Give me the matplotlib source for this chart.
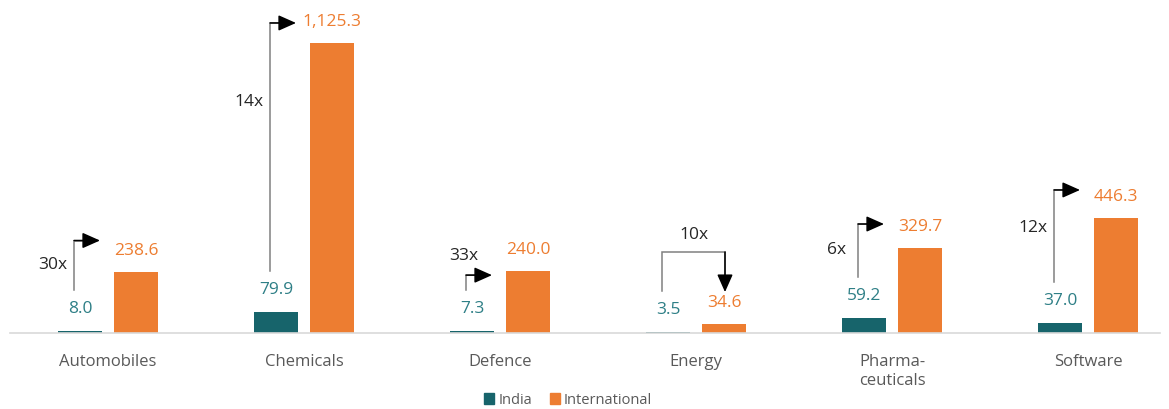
import matplotlib
matplotlib.use("Agg")
import matplotlib.pyplot as plt
from matplotlib.patches import Patch

categories = ["Automobiles", "Chemicals", "Defence", "Energy", "Pharma-\nceuticals", "Software"]
india = [8.0, 79.9, 7.3, 3.5, 59.2, 37.0]
international = [238.6, 1125.3, 240.0, 34.6, 329.7, 446.3]

# annotation layout (pixel offsets, not data)
bracket_style = ["side", "side", "top", "down", "side", "side"]
rise_px = [31, 20, -4, 72, 24, 28]      # horizontal level above international bar top
label_frac = [0.5, 0.32, 0, 0, 0.5, 0.41]

TEAL = "#17646B"
TEAL_TXT = "#2E7F86"
ORANGE = "#ED7D31"
GRAY_TXT = "#595959"
FONT = ["Open Sans", "DejaVu Sans"]
plt.rcParams["font.family"] = FONT

W, H = 1169, 409
fig = plt.figure(figsize=(W / 100, H / 100), dpi=100)
base_px = 333
ax_left, ax_right = 10, 1160
ax = fig.add_axes([ax_left / W, (H - base_px) / H, (ax_right - ax_left) / W, base_px / H])

slot = 196.0
x0 = -(108 - ax_left) / slot
x1 = (ax_right - 108) / slot
ymax = 1292.0
ax.set_xlim(x0, x1)
ax.set_ylim(0, ymax)
xs = (x1 - x0) / (ax_right - ax_left)
ys = ymax / base_px

off = 28 * xs
bw = 44 * xs
idx = list(range(len(categories)))
ax.bar([i - off for i in idx], india, width=bw, color=TEAL, zorder=2)
ax.bar([i + off for i in idx], international, width=bw, color=ORANGE, zorder=2)

for i in idx:
    ax.text(i - off, india[i] + 22 * ys, f"{india[i]:,.1f}", ha="center", va="center",
            color=TEAL_TXT, fontsize=12.5)
    ax.text(i + off, international[i] + 21 * ys, f"{international[i]:,.1f}", ha="center", va="center",
            color=ORANGE, fontsize=12.5)

LINE = "#808080"
AS = "-|>,head_length=0.9,head_width=0.4"
MS = 12
for i in idx:
    mult = f"{round(international[i] / india[i])}x"
    xv = i - off - 6 * xs
    ybot = india[i] + 41 * ys
    ytop = international[i] + rise_px[i] * ys
    st = bracket_style[i]
    if st == "down":
        xr = i + off + 1 * xs
        ytip = international[i] + 32 * ys
        ax.plot([xv, xv, xr], [ybot, ytop, ytop], color=LINE, lw=1.1, solid_joinstyle="miter", zorder=3)
        ax.plot([xr, xr], [ytop, ytip + 6 * ys], color=LINE, lw=1.1, zorder=3)
        ax.annotate("", xy=(xr, ytip), xytext=(xr, ytop),
                    arrowprops=dict(arrowstyle=AS, color="black",
                                    lw=1.1, shrinkA=0, shrinkB=0, mutation_scale=MS), zorder=4)
        ax.text((xv + xr) / 2, ytop + 17 * ys, mult, ha="center", va="center", fontsize=12.5, color="#262626")
    else:
        xtip = i + off - 36 * xs
        ax.plot([xv, xv, xtip - 6 * xs], [ybot, ytop, ytop], color=LINE, lw=1.1, zorder=3)
        ax.annotate("", xy=(xtip, ytop), xytext=(xv, ytop),
                    arrowprops=dict(arrowstyle=AS, color="black",
                                    lw=1.1, shrinkA=0, shrinkB=0, mutation_scale=MS), zorder=4)
        if st == "side":
            ly = ytop - label_frac[i] * (ytop - ybot)
            ax.text(xv - 21 * xs, ly, mult, ha="center", va="center", fontsize=12.5, color="#262626")
        else:
            ax.text(xv - 2 * xs, ytop + 19 * ys, mult, ha="center", va="center", fontsize=12.5, color="#262626")

ax.set_xticks(idx)
ax.set_xticklabels(categories, fontsize=12, color=GRAY_TXT, linespacing=1.3)
ax.tick_params(axis="x", length=0, pad=15)
ax.set_yticks([])
for s in ["top", "right", "left"]:
    ax.spines[s].set_visible(False)
ax.spines["bottom"].set_color("#D9D9D9")
ax.spines["bottom"].set_linewidth(1.2)

handles = [Patch(color=TEAL, label="India"), Patch(color=ORANGE, label="International")]
fig.legend(handles=handles, loc="center", bbox_to_anchor=(568 / W, 1 - 400 / H), ncol=2, frameon=False,
           fontsize=10.5, handlelength=0.7, handleheight=0.7, handletextpad=0.3, columnspacing=1.2,
           labelcolor=GRAY_TXT)

fig.savefig("out.png", dpi=100)
